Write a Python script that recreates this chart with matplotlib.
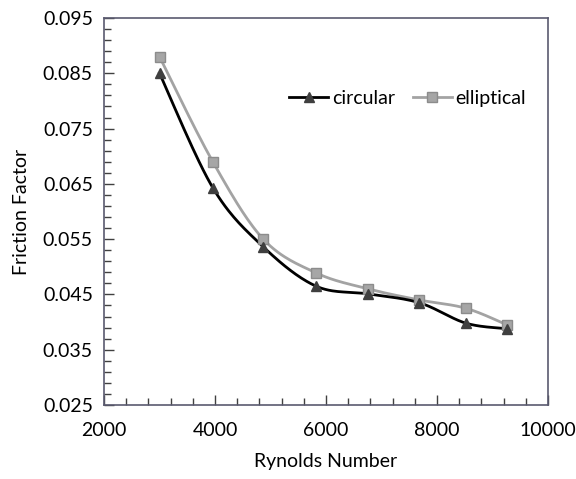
import numpy as np
import matplotlib.pyplot as plt
from matplotlib.ticker import MultipleLocator, FixedLocator, FormatStrFormatter

# data
reynolds = [3000, 3960, 4870, 5820, 6760, 7680, 8520, 9260]
f_circular = [0.0850, 0.0643, 0.0536, 0.0465, 0.0451, 0.0435, 0.0398, 0.0388]
f_elliptical = [0.0880, 0.0690, 0.0550, 0.0489, 0.0460, 0.0440, 0.0425, 0.0395]


def smooth(xs, ys, n=30):
    # catmull-rom path through the points, like a smoothed excel line
    p = np.column_stack([xs, ys]).astype(float)
    p = np.vstack([p[0], p, p[-1]])
    out = []
    t = np.linspace(0, 1, n)[:, None]
    for i in range(1, len(p) - 2):
        p0, p1, p2, p3 = p[i - 1], p[i], p[i + 1], p[i + 2]
        seg = 0.5 * ((2 * p1) + (-p0 + p2) * t + (2 * p0 - 5 * p1 + 4 * p2 - p3) * t ** 2
                     + (-p0 + 3 * p1 - 3 * p2 + p3) * t ** 3)
        out.append(seg)
    out = np.vstack(out)
    return out[:, 0], out[:, 1]


plt.rcParams['font.family'] = ['Lato', 'DejaVu Sans']

fig = plt.figure(figsize=(5.76, 4.79), dpi=100)
ax = fig.add_axes([0.1806, 0.1545, 0.7708, 0.8079])

xc, yc = smooth(reynolds, f_circular)
xe, ye = smooth(reynolds, f_elliptical)

ax.plot(xc, yc, color='black', lw=2, zorder=3)
ax.plot(reynolds, f_circular, ls='none', marker='^', ms=7.5, color='#3f3f3f', zorder=4)
ax.plot(xe, ye, color='#a3a3a3', lw=2, zorder=2)
ax.plot(reynolds, f_elliptical, ls='none', marker='s', ms=7.5, color='#a6a6a6',
        markeredgecolor='#8c8c8c', zorder=3)

# legend handles
h1, = ax.plot([], [], color='black', lw=2, marker='^', ms=7.5, markerfacecolor='#3f3f3f',
              markeredgecolor='#3f3f3f')
h2, = ax.plot([], [], color='#a3a3a3', lw=2, marker='s', ms=7.5, markerfacecolor='#a6a6a6',
              markeredgecolor='#8c8c8c')
ax.legend([h1, h2], ['circular', 'elliptical'], loc='upper right', bbox_to_anchor=(0.99, 0.86),
          ncol=2, frameon=False, fontsize=14, handlelength=2.0, handletextpad=0.2,
          columnspacing=0.9)

ax.set_xlim(2000, 10000)
ax.set_ylim(0.025, 0.095)
ax.xaxis.set_major_locator(MultipleLocator(2000))
ax.xaxis.set_minor_locator(MultipleLocator(400))
ax.yaxis.set_major_locator(FixedLocator(np.arange(0.025, 0.0951, 0.01)))
ax.yaxis.set_minor_locator(FixedLocator(np.arange(0.025, 0.0951, 0.002)))
ax.yaxis.set_major_formatter(FormatStrFormatter('%.3f'))

ax.tick_params(which='both', direction='in', colors='#404040', labelcolor='black',
               labelsize=14, pad=8)
ax.tick_params(which='major', length=7, width=1)
ax.tick_params(which='minor', length=5, width=1)
ax.tick_params(axis='x', pad=12)

for s in ax.spines.values():
    s.set_color('#5a5a70')
    s.set_linewidth(1.2)

ax.set_xlabel('Rynolds Number', fontsize=14, labelpad=10)
ax.set_ylabel('Friction Factor', fontsize=14, labelpad=9)

fig.savefig('out.png', dpi=100)
